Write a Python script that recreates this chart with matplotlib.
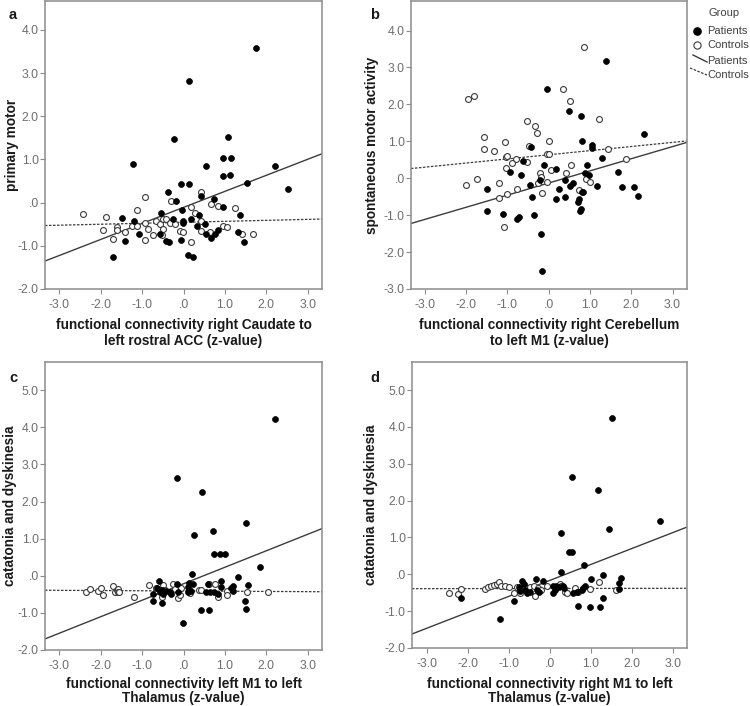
import matplotlib
matplotlib.use("Agg")
import matplotlib.pyplot as plt
from matplotlib.lines import Line2D
from matplotlib.ticker import FuncFormatter, FixedLocator

plt.rcParams['font.family'] = ['Liberation Sans', 'DejaVu Sans']

# ---------------- data ----------------
# Panel a
a_pat_x = [1.74, 0.14, -0.24, 1.08, 0.95, 1.15, 0.55, 2.21, -1.21, 0.96, 1.13, 1.53, 2.52, -0.05, 0.14, -0.38,
           -0.17, 0.43, 0.74, 0.96, -0.04, -0.55, 1.36, 0.37, -1.48, -1.20, -0.26, -0.02, -0.02, 0.19, 0.53, 0.32,
           0.55, 0.67, 0.75, 0.83, 1.31, 1.45, -1.07, -1.40, -0.57, -0.42, -0.34, -0.05, -1.69, 0.10, 0.22]
a_pat_y = [3.59, 2.82, 1.48, 1.53, 1.04, 1.03, 0.84, 0.85, 0.89, 0.61, 0.65, 0.46, 0.32, 0.44, 0.43, 0.24,
           0.03, 0.15, 0.085, -0.09, -0.18, -0.25, -0.28, -0.28, -0.36, -0.43, -0.38, -0.43, -0.47, -0.38, -0.49, -0.55,
           -0.72, -0.83, -0.73, -0.63, -0.67, -0.91, -0.73, -0.88, -0.73, -0.88, -0.92, -0.87, -1.26, -1.22, -1.26]
a_con_x = [-2.43, -1.86, -1.95, -1.61, -1.61, -1.70, -1.40, -1.12, -0.92, -1.23, -1.11, -0.93, -0.86, -0.94,
           -0.73, -0.67, -0.57, -0.49, -0.53, -0.49, -0.41, -0.33, -0.29, -0.21, -0.09, -0.02, 0.17, 0.17, 0.27,
           0.43, 0.43, 0.43, 0.63, 0.67, 0.82, 0.96, 1.06, 1.23, 1.40, 1.68]
a_con_y = [-0.26, -0.33, -0.63, -0.56, -0.64, -0.84, -0.69, -0.16, 0.13, -0.53, -0.53, -0.46, -0.60, -0.86,
           -0.75, -0.43, -0.49, -0.61, -0.76, -0.39, -0.38, -0.47, 0.03, -0.49, -0.65, -0.69, -0.09, -0.92, -0.24,
           0.24, -0.43, -0.65, -0.69, -0.04, -0.07, -0.53, -0.56, -0.12, -0.73, -0.73]
a_fit_pat = (0.372, -0.11)   # slope, intercept
a_fit_con = (0.0225, -0.455)

# Panel b
b_pat_x = [1.40, -0.04, 0.49, 0.79, 2.31, 0.82, 1.04, 1.04, -0.43, -0.61, -0.12, 0.18, 0.92, 1.29, -0.93, -0.67,
           0.88, 0.99, 0.40, -0.21, 0.58, 0.52, -0.46, -1.49, 0.26, 1.69, 1.16, 1.77, 2.07, 2.16, -0.40, 0.19,
           0.40, 0.80, 0.84, 0.74, 0.72, 0.78, 0.75, -1.48, -1.11, -0.35, -0.71, -0.77, -0.19, -0.15]
b_pat_y = [3.18, 2.42, 1.81, 1.68, 1.19, 1.00, 0.90, 0.83, 0.85, 0.46, 0.37, 0.25, 0.37, 0.55, 0.18, 0.10,
           0.13, 0.10, -0.04, -0.05, -0.14, -0.21, -0.19, -0.29, -0.29, 0.18, -0.22, -0.24, -0.24, -0.49, -0.51, -0.57,
           -0.50, -0.37, -0.37, -0.55, -0.65, -0.82, -0.89, -0.89, -0.97, -1.00, -1.04, -1.11, -1.52, -2.51]
b_con_x = [0.85, 0.34, -1.96, -1.81, 0.53, 1.21, -0.53, -0.32, -0.28, -1.57, -1.57, -1.32, -1.05, -0.47, 0.02,
           -0.04, 0.00, -1.03, -1.01, -0.79, -0.53, -0.89, -1.02, 0.07, 0.54, 0.41, -0.21, -0.19, -0.25, -0.04,
           -0.16, 0.90, 1.01, 0.74, 1.45, 1.87, -1.73, -2.01, -1.19, -0.76, -1.01, -1.20, -1.08]
b_con_y = [3.55, 2.42, 2.14, 2.22, 2.09, 1.60, 1.54, 1.42, 1.23, 1.12, 0.80, 0.73, 0.99, 0.88, 1.01,
           0.66, 0.66, 0.58, 0.60, 0.51, 0.44, 0.40, 0.29, 0.22, 0.36, 0.15, 0.13, 0.02, -0.14, -0.10,
           -0.40, -0.03, -0.11, -0.31, 0.80, 0.51, -0.02, -0.19, -0.14, -0.29, -0.42, -0.53, -1.33]
b_fit_pat = (0.329, -0.13)
b_fit_con = (0.112, 0.635)

# Panel c
c_pat_x = [2.20, -0.16, 0.44, 1.51, 0.26, 0.71, 0.74, 0.89, 0.99, -0.02, 1.84, 0.20, 1.32, -0.59, -0.15, 0.13,
           0.22, 0.90, 0.58, 1.20, 1.56, 1.15, -0.65, -0.53, -0.57, -0.73, -0.49, -0.33, -0.29, 0.11, 0.11, 0.19,
           0.54, 0.63, 0.74, 0.90, 0.83, 1.20, -0.73, -0.53, 1.48, 1.50, 0.43, 0.61, -0.43, -0.13]
c_pat_y = [4.23, 2.63, 2.27, 1.43, 1.11, 1.21, 0.58, 0.60, 0.60, -1.26, 0.24, 0.04, -0.03, -0.15, -0.21, -0.19,
           -0.23, -0.14, -0.21, -0.28, -0.25, -0.34, -0.34, -0.39, -0.45, -0.50, -0.48, -0.43, -0.48, -0.30, -0.43, -0.41,
           -0.45, -0.45, -0.45, -0.30, -0.48, -0.41, -0.68, -0.73, -0.68, -0.89, -0.92, -0.92, -0.42, -0.43]
c_con_x = [-2.35, -2.25, -2.05, -1.99, -1.93, -1.69, -1.64, -1.61, -1.57, -1.59, -1.56, -1.19, -0.83, -0.67,
           -0.49, -0.53, -0.26, -0.21, -0.13, -0.09, -0.05, 0.37, 0.43, 0.62, 0.75, 0.83, 1.06, 1.06, 1.54, 2.04,
           -0.45, 0.16]
c_con_y = [-0.45, -0.36, -0.41, -0.34, -0.53, -0.27, -0.43, -0.39, -0.35, -0.45, -0.43, -0.57, -0.25, -0.32,
           -0.26, -0.57, -0.21, -0.36, -0.59, -0.53, -0.34, -0.37, -0.37, -0.21, -0.21, -0.57, -0.41, -0.53, -0.43, -0.45,
           -0.37, -0.47]
c_fit_pat = (0.445, -0.215)
c_fit_con = (-0.006, -0.41)

# Panel d
d_pat_x = [1.52, 0.55, 1.18, 0.28, 1.44, 2.68, 0.47, 0.55, 0.83, 0.26, 1.30, 1.72, 1.69, 1.01, -0.69, -0.63,
           -0.34, -0.16, 0.08, 0.16, 0.23, 0.32, 0.35, -0.75, -0.73, -0.61, -0.57, -0.49, -0.32, -0.27, 0.08, 0.12,
           0.57, 0.65, 0.77, 0.81, 0.85, 1.69, -2.17, -0.87, 0.69, 0.97, 1.22, 1.30, -1.22]
d_pat_y = [4.25, 2.65, 2.29, 1.13, 1.23, 1.45, 0.61, 0.61, 0.25, 0.06, -0.02, -0.11, -0.23, -0.14, -0.17, -0.25,
           -0.14, -0.17, -0.32, -0.32, -0.35, -0.32, -0.38, -0.34, -0.44, -0.43, -0.50, -0.47, -0.43, -0.47, -0.50, -0.43,
           -0.50, -0.47, -0.43, -0.38, -0.32, -0.40, -0.63, -0.72, -0.86, -0.90, -0.90, -0.65, -1.22]
d_con_x = [-2.45, -2.23, -2.17, -1.58, -1.50, -1.44, -1.36, -1.28, -1.23, -1.20, -1.09, -0.99, -0.88, -0.81,
           -0.73, -0.61, -0.49, -0.42, -0.39, -0.28, -0.22, -0.08, 0.24, 0.28, 0.36, 0.41, 0.61, 0.69, 0.97, 1.19,
           1.62, -0.36]
d_con_y = [-0.51, -0.53, -0.41, -0.41, -0.35, -0.32, -0.29, -0.25, -0.20, -0.32, -0.32, -0.35, -0.51, -0.35,
           -0.51, -0.34, -0.35, -0.44, -0.32, -0.38, -0.43, -0.32, -0.25, -0.32, -0.47, -0.51, -0.38, -0.47, -0.41, -0.20,
           -0.43, -0.60]
d_fit_pat = (0.433, -0.165)
d_fit_con = (0.0015, -0.385)

panel_letters = ['a', 'b', 'c', 'd']
y_labels = ['primary motor', 'spontaneous motor activity', 'catatonia and dyskinesia', 'catatonia and dyskinesia']
x_labels = ['functional connectivity right Caudate to\nleft rostral ACC (z-value)',
            'functional connectivity right Cerebellum\nto left M1 (z-value)',
            'functional connectivity left M1 to left\nThalamus (z-value)',
            'functional connectivity right M1 to left\nThalamus (z-value)']
x_ticks = [-3, -2, -1, 0, 1, 2, 3]
y_ticks_list = [[-2, -1, 0, 1, 2, 3, 4], [-3, -2, -1, 0, 1, 2, 3, 4],
                [-2, -1, 0, 1, 2, 3, 4, 5], [-2, -1, 0, 1, 2, 3, 4, 5]]
legend_title = 'Group'
group_names = ['Patients', 'Controls']

# ---------------- layout ----------------
W, H = 750, 706
fig = plt.figure(figsize=(W / 100, H / 100), dpi=100)

def px_axes(l, t, r, b):
    return fig.add_axes([l / W, 1 - b / H, (r - l) / W, (b - t) / H])

axes_px = [(45, 1, 322, 289), (411, 1, 687, 289), (45, 362, 322, 650), (412, 362, 687, 648)]
xlims = [(-3.34, 3.34), (-3.33, 3.35), (-3.34, 3.34), (-3.36, 3.34)]
ylims = [(-2, 4.67), (-3, 4.8), (-2, 5.76), (-2, 5.76)]
letter_px = [(9, 15), (370, 15), (9, 378), (370, 378)]
ylabel_cx = [12, 372, 10, 371]        # pixel x of y-label centre
xlabel_top = [318, 318, 677, 677]     # pixel y of x-label top
xlabel_ls = [1.2, 1.2, 1.03, 1.03]

data = [
    (a_pat_x, a_pat_y, a_con_x, a_con_y, a_fit_pat, a_fit_con),
    (b_pat_x, b_pat_y, b_con_x, b_con_y, b_fit_pat, b_fit_con),
    (c_pat_x, c_pat_y, c_con_x, c_con_y, c_fit_pat, c_fit_con),
    (d_pat_x, d_pat_y, d_con_x, d_con_y, d_fit_pat, d_fit_con),
]

fmt = FuncFormatter(lambda v, p: '.0' if abs(v) < 1e-9 else f'{v:.1f}')
spine_col = '#8c8c8c'
tick_col = '#6e6e6e'

for i, (px, py, cx, cy, fp, fc) in enumerate(data):
    l, t, r, b = axes_px[i]
    ax = px_axes(l, t, r, b)
    ax.set_xlim(*xlims[i])
    ax.set_ylim(*ylims[i])
    ax.scatter(cx, cy, s=18, facecolors='white', edgecolors='#3a3a3a', linewidths=0.8, zorder=3)
    ax.scatter(px, py, s=18, facecolors='black', edgecolors='black', linewidths=0.5, zorder=4)
    ax.axline((0, fp[1]), slope=fp[0], color='#3c3c3c', lw=1.0, zorder=2)
    ax.axline((0, fc[1]), slope=fc[0], color='#3c3c3c', lw=0.9, linestyle=(0, (2, 1.2)), zorder=2)
    ax.xaxis.set_major_locator(FixedLocator(x_ticks))
    ax.yaxis.set_major_locator(FixedLocator(y_ticks_list[i]))
    ax.xaxis.set_major_formatter(fmt)
    ax.yaxis.set_major_formatter(fmt)
    for s in ax.spines.values():
        s.set_color(spine_col)
        s.set_linewidth(1.1)
    ax.tick_params(direction='out', length=3.5, width=0.8, color=spine_col,
                   labelcolor=tick_col, labelsize=8.8)
    ax.tick_params(axis='x', pad=3.5)
    ax.tick_params(axis='y', pad=1.0)
    ax.set_xlabel(x_labels[i], fontsize=9.8, fontweight='bold', color='#1a1a1a', linespacing=xlabel_ls[i])
    ax.xaxis.set_label_coords(0.5, -(xlabel_top[i] - b) / (b - t))
    ax.xaxis.label.set_verticalalignment('top')
    ax.set_ylabel(y_labels[i], fontsize=9.8, fontweight='bold', color='#1a1a1a')
    ax.yaxis.set_label_coords((ylabel_cx[i] - l) / (r - l), 0.5)
    ax.yaxis.label.set_verticalalignment('center')
    lx, ly = letter_px[i]
    fig.text(lx / W, 1 - ly / H, panel_letters[i], fontsize=10.5, fontweight='bold',
             ha='left', va='center', color='#1a1a1a')

# ---------------- legend ----------------
leg_col = '#404040'
def fx(x): return x / W
def fy(y): return 1 - y / H

fig.text(fx(724), fy(13), legend_title, fontsize=8, color=leg_col, ha='center', va='center')
fig.add_artist(Line2D([fx(696.5)], [fy(31)], marker='o', markersize=5.2, color='black',
                      markerfacecolor='black', transform=fig.transFigure))
fig.add_artist(Line2D([fx(697)], [fy(45)], marker='o', markersize=5.2, color='#3a3a3a',
                      markerfacecolor='white', markeredgewidth=0.8, transform=fig.transFigure))
fig.add_artist(Line2D([fx(693), fx(707)], [fy(55), fy(62)], color='#3c3c3c', lw=1.0,
                      transform=fig.transFigure))
fig.add_artist(Line2D([fx(690), fx(707)], [fy(68), fy(75)], color='#3c3c3c', lw=0.9,
                      linestyle=(0, (2, 1.2)), transform=fig.transFigure))
for yy, name in zip([31, 45, 61, 75], group_names + group_names):
    fig.text(fx(707), fy(yy), name, fontsize=8, color=leg_col, ha='left', va='center')

fig.savefig('out.png', dpi=100, facecolor='white')
